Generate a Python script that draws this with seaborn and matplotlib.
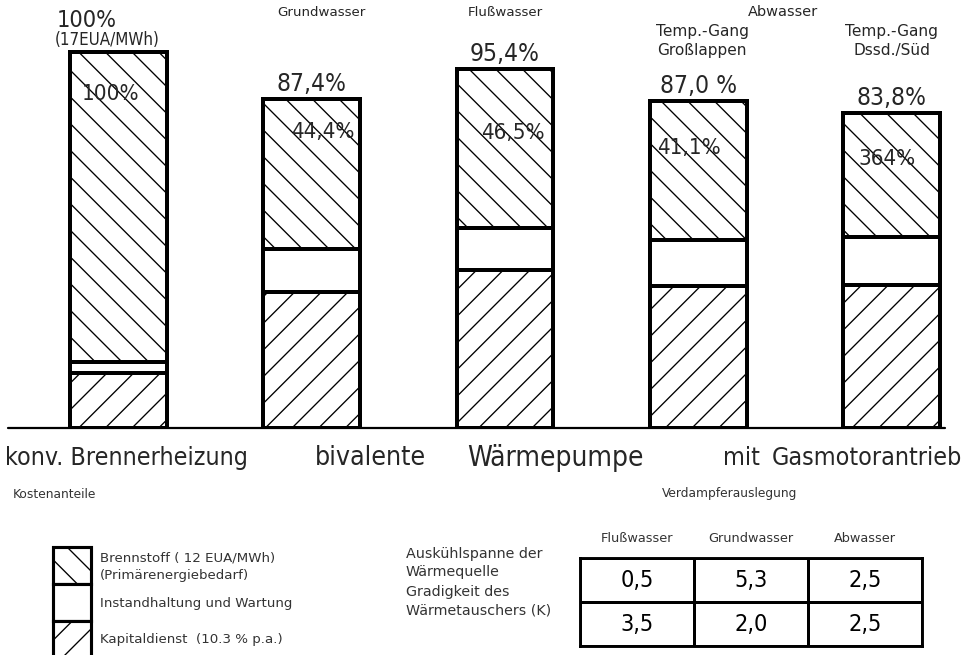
import numpy as np
import pandas as pd
import matplotlib
matplotlib.use("Agg")
import matplotlib.pyplot as plt
import matplotlib.transforms as mtransforms
from matplotlib.colors import ListedColormap
import seaborn as sns

# ---------------- data ----------------
bar_ids = ["konv", "Grundwasser", "Flusswasser", "Abw_Grosslappen", "Abw_Dssd"]
kapitaldienst = [14.6, 36.2, 42.0, 37.8, 38.0]
instandhaltung = [2.9, 11.4, 11.2, 12.2, 12.8]
brennstoff = [82.5, 39.8, 42.2, 37.0, 33.0]
total_labels = ["100%", "87,4%", "95,4%", "87,0 %", "83,8%"]
fuel_labels = ["100%", "44,4%", "46,5%", "41,1%", "364%"]
unit_label = "(17EUA/MWh)"
source_labels = ["", "Grundwasser", "Flußwasser", "Temp.-Gang\nGroßlappen", "Temp.-Gang\nDssd./Süd"]
abwasser_label = "Abwasser"
bottom_words = ["konv. Brennerheizung", "bivalente", "Wärmepumpe", "mit", "Gasmotorantrieb"]
legend_title = "Kostenanteile"
legend_labels = ["Brennstoff ( 12 EUA/MWh)\n(Primärenergiebedarf)",
                 "Instandhaltung und Wartung",
                 "Kapitaldienst  (10.3 % p.a.)"]
table_title = "Verdampferauslegung"
table_cols = ["Flußwasser", "Grundwasser", "Abwasser"]
table_rows = ["Auskühlspanne der\nWärmequelle", "Gradigkeit des\nWärmetauschers (K)"]
auskuehlspanne = [0.5, 5.3, 2.5]
gradigkeit = [3.5, 2.0, 2.5]

# ---------------- style ----------------
sns.set_style("white")
plt.rcParams["font.family"] = ["DejaVu Sans"]
plt.rcParams["hatch.linewidth"] = 0.6
NARROW = ["DejaVu Sans"]

W, H, DPI = 972, 655, 160
fig = plt.figure(figsize=(W / DPI, H / DPI), dpi=DPI)
fig.patch.set_facecolor("white")

def fx(px):
    return px / W

def fy(py):
    return 1 - py / H

# main axes: baseline at y=428 px, 100% = 376 px
base_px = 428
ax = fig.add_axes([0, fy(base_px), 1, base_px / H])

df = pd.DataFrame({"bar": bar_ids, "kap": kapitaldienst,
                   "inst": instandhaltung, "fuel": brennstoff})
df["kap_inst"] = df["kap"] + df["inst"]
df["total"] = df["kap_inst"] + df["fuel"]

common = dict(data=df, x="bar", order=bar_ids, color="white", saturation=1,
              edgecolor="black", linewidth=1.8, width=0.50, errorbar=None, ax=ax)
sns.barplot(y="total", hatch="\\\\", **common)
sns.barplot(y="kap_inst", **common)
sns.barplot(y="kap", hatch="//", **common)

spacing = 193.3
c0 = 118.4
ax.set_xlim(-c0 / spacing, (W - c0) / spacing)
ax.set_ylim(0, base_px / 376 * 100)
ax.axis("off")
ax.axhline(0, xmin=8 / W, xmax=945 / W, color="black", lw=1.0, clip_on=False)

# labels above bars
VAL_FS = 11.0
for i, lab in enumerate(total_labels):
    tot = df["total"][i]
    if i == 0:
        ax.text(i - 0.06, tot + 0.9, unit_label, ha="center", va="bottom",
                fontsize=7.6, family=NARROW, fontstretch="condensed")
        ax.text(i - 0.165, tot + 5.4, lab, ha="center", va="bottom",
                fontsize=10.5, family=NARROW, fontstretch="condensed")
    else:
        ax.text(i, tot + 0.8, lab, ha="center", va="bottom",
                fontsize=VAL_FS, family=NARROW, fontstretch="condensed")

inner_off = [11.2, 8.7, 16.9, 12.5, 12.3]
inner_dx = [-0.04, 0.06, 0.04, -0.05, -0.026]
for i, lab in enumerate(fuel_labels):
    ax.text(i + inner_dx[i], df["total"][i] - inner_off[i], lab, ha="center",
            va="center", fontsize=10.0, family=NARROW, fontstretch="condensed")

# source labels at top
tr = mtransforms.blended_transform_factory(ax.transData, fig.transFigure)
src_dx = [0, 0.05, 0.0, 0.02, 0.0]
for i, lab in enumerate(source_labels):
    if not lab:
        continue
    two = "\n" in lab
    fig.text(i + src_dx[i], fy(41) if two else fy(12), lab, transform=tr,
             ha="center", va="center", fontsize=6.9 if two else 6.0,
             linespacing=1.3)
fig.text(3.44, fy(12), abwasser_label, transform=tr, ha="center", va="center",
         fontsize=6.5)

# bottom words
BOT_FS = 11.2
fig.text(fx(5), fy(458), bottom_words[0], ha="left", va="center",
         fontsize=BOT_FS, family=NARROW, fontstretch="condensed")
for px, w, fs in zip([370, 555, 741, 867], bottom_words[1:],
                     [12.0, 12.6, BOT_FS, BOT_FS]):
    fig.text(fx(px), fy(458), w, ha="center", va="center",
             fontsize=fs, family=NARROW, fontstretch="condensed")

# ---------------- legend ----------------
fig.text(fx(13), fy(495), legend_title, ha="left", va="center",
         fontsize=5.5, color="#333333")
lax = fig.add_axes([fx(53), fy(658), fx(38), 111 / H])
hatches = ["\\\\", "", "//"]
for k in range(3):
    lax.bar([0], [1], bottom=[2 - k], width=1, color="white", edgecolor="black",
            linewidth=1.4, hatch=hatches[k], clip_on=False)
lax.set_xlim(-0.5, 0.5)
lax.set_ylim(0, 3)
lax.axis("off")
fig.text(fx(100), fy(567), legend_labels[0], ha="left", va="center",
         fontsize=6.0, color="#333333", linespacing=1.5)
fig.text(fx(100), fy(603), legend_labels[1], ha="left", va="center",
         fontsize=6.0, color="#333333")
fig.text(fx(100), fy(640), legend_labels[2], ha="left", va="center",
         fontsize=6.0, color="#333333")

# ---------------- table ----------------
fig.text(fx(662), fy(493), table_title, ha="left", va="center",
         fontsize=5.5, color="#333333")
tab_vals = np.array([auskuehlspanne, gradigkeit])
tab_txt = np.array([[f"{v:.1f}".replace(".", ",") for v in row] for row in tab_vals])
tax = fig.add_axes([fx(580), fy(646), fx(922) - fx(580), (646 - 558) / H])
sns.heatmap(tab_vals, annot=tab_txt, fmt="", cmap=ListedColormap(["white"]),
            cbar=False, linewidths=1.2, linecolor="black", ax=tax,
            annot_kws=dict(fontsize=10.5, color="black", family=NARROW,
                           fontstretch="condensed"))
tax.set_xticks([])
tax.set_yticks([])
for s in tax.spines.values():
    s.set_visible(True)
    s.set_linewidth(1.3)
    s.set_color("black")
for j, c in enumerate(table_cols):
    tax.text(j + 0.5, -0.45, c, ha="center", va="center", fontsize=5.8,
             color="#333333")
for lab, py in zip(table_rows, [563, 601]):
    fig.text(fx(406), fy(py), lab, ha="left", va="center", fontsize=6.4,
             color="#333333", linespacing=1.4)

fig.savefig("out.png", dpi=DPI)
